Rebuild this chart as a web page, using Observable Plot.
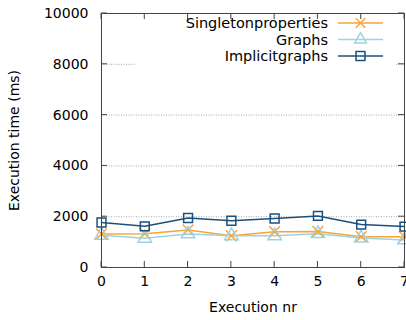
<!DOCTYPE html>
<html><head><meta charset="utf-8">
<script src="https://cdn.jsdelivr.net/npm/d3@7"></script>
<script src="https://cdn.jsdelivr.net/npm/@observablehq/plot@0.6"></script>
<style>
body{margin:0;background:#fff;}
#chart svg{font-family:"DejaVu Sans",sans-serif;}
</style>
</head><body><div id="chart"></div>
<script>
const runs = [0, 1, 2, 3, 4, 5, 6, 7];
const seriesNames = ["Singletonproperties", "Graphs", "Implicitgraphs"];
const singleton = [1320, 1330, 1480, 1250, 1410, 1420, 1215, 1215];
const graphs = [1270, 1150, 1320, 1250, 1250, 1330, 1160, 1085];
const implicit = [1770, 1620, 1950, 1840, 1930, 2030, 1690, 1610];
const yTicks = [0, 2000, 4000, 6000, 8000, 10000];
const colors = ["#f7a535", "#9ed2e3", "#1d4f7b"];
const symbols = ["times", "triangle", "square"];

const values = [singleton, graphs, implicit];
const data = [];
seriesNames.forEach((s, i) => runs.forEach((r, j) => data.push({series: s, run: r, time: values[i][j]})));

const W = 406, H = 320;
const fmt = d => String(d);
const chart = Plot.plot({
  width: W, height: H,
  marginLeft: 101, marginRight: 2, marginTop: 13, marginBottom: 53,
  style: {fontFamily: "DejaVu Sans, sans-serif", fontSize: "14px", color: "#000", background: "#fff"},
  x: {domain: [0, 7]},
  y: {domain: [0, 10000]},
  color: {domain: seriesNames, range: colors},
  symbol: {domain: seriesNames, range: symbols},
  marks: [
    Plot.gridY(yTicks.slice(1, -1), {stroke: "#aaa", strokeOpacity: 1, strokeDasharray: "1,1.5"}),
    Plot.axisX(runs, {tickSize: 0, tickPadding: 9, tickFormat: fmt, label: "Execution nr", labelAnchor: "center", labelArrow: "none", labelOffset: 44, fontSize: 14}),
    Plot.axisY(yTicks, {tickSize: 0, tickPadding: 13, tickFormat: fmt, label: "Execution time (ms)", labelAnchor: "center", labelArrow: "none", labelOffset: 92, fontSize: 14}),
    Plot.line(data, {x: "run", y: "time", z: "series", stroke: "series", strokeWidth: 1.5}),
    Plot.dot(data, {x: "run", y: "time", symbol: "series", stroke: "series", fill: "none", r: 5, strokeWidth: 1.5}),
    Plot.frame({stroke: "#444", strokeWidth: 1})
  ]
});
document.getElementById("chart").appendChild(chart);

// opaque legend box, inward mirror ticks and in-plot legend, positioned via the chart's own scales
const svg = d3.select(chart);
const xs = chart.scale("x"), ys = chart.scale("y");
const [x0, x1] = xs.range, [y0, y1] = ys.range; // y0 bottom, y1 top
svg.append("rect").attr("x", x0 + 35).attr("y", y1 + 1).attr("width", (x1 - 9) - (x0 + 35)).attr("height", 56).attr("fill", "#fff");
const g = svg.append("g").attr("stroke", "#444").attr("stroke-width", 1);
runs.forEach(r => {
  const px = xs.apply(r);
  g.append("line").attr("x1", px).attr("x2", px).attr("y1", y0).attr("y2", y0 - 6);
  g.append("line").attr("x1", px).attr("x2", px).attr("y1", y1).attr("y2", y1 + 6);
});
yTicks.forEach(t => {
  const py = ys.apply(t);
  g.append("line").attr("x1", x0).attr("x2", x0 + 6).attr("y1", py).attr("y2", py);
  g.append("line").attr("x1", x1).attr("x2", x1 - 6).attr("y1", py).attr("y2", py);
});

const lg = svg.append("g");
const symGen = [d3.symbolTimes, d3.symbolTriangle, d3.symbolSquare];
const symSize = [60, 60, 80];
seriesNames.forEach((s, i) => {
  const cy = y1 + 10 + i * 16.5;
  const tx = x1 - 76, lx1 = x1 - 66, lx2 = x1 - 21, sx = (lx1 + lx2) / 2;
  lg.append("text").attr("x", tx).attr("y", cy).attr("dy", "0.35em").attr("text-anchor", "end")
    .attr("font-size", 14.5).attr("fill", "#000").text(s);
  lg.append("line").attr("x1", lx1).attr("x2", lx2).attr("y1", cy).attr("y2", cy)
    .attr("stroke", colors[i]).attr("stroke-width", 1.5);
  lg.append("path").attr("d", d3.symbol(symGen[i], symSize[i])()).attr("transform", `translate(${sx},${cy})`)
    .attr("fill", "none").attr("stroke", colors[i]).attr("stroke-width", 1.5);
});
</script>
</body></html>
